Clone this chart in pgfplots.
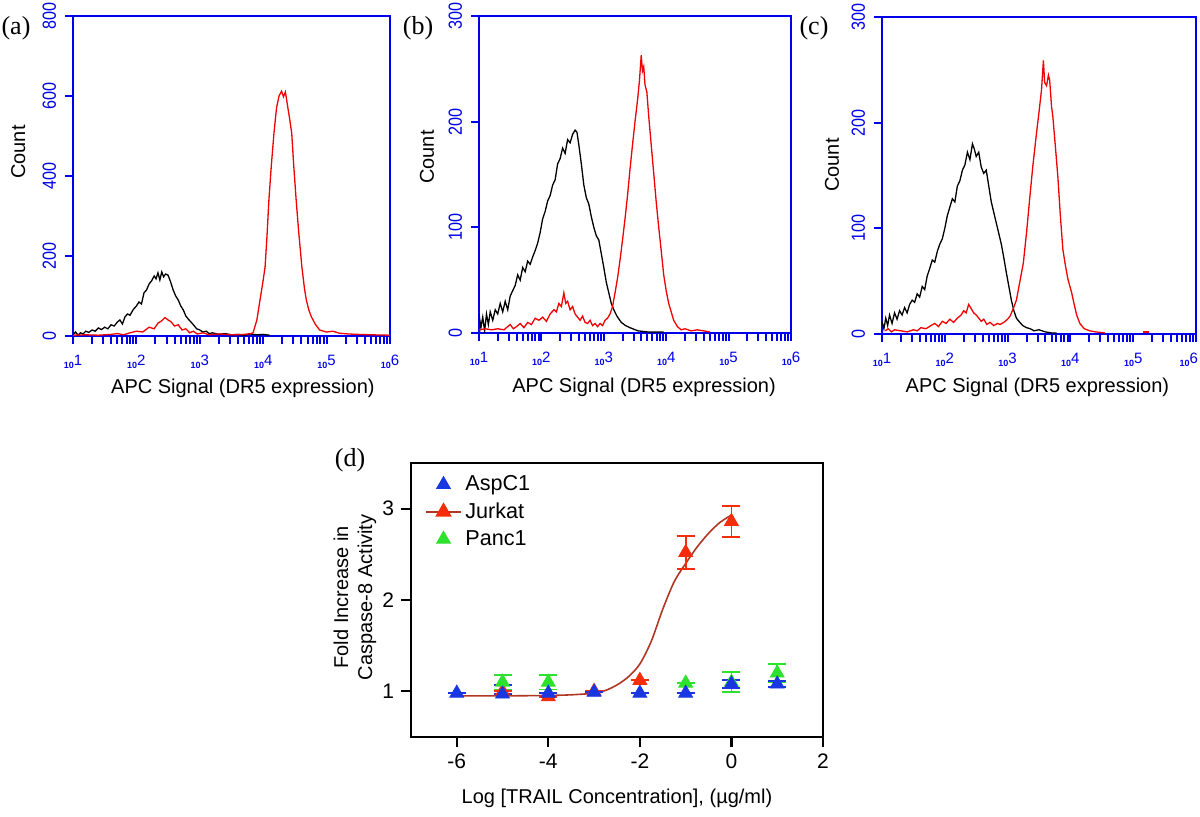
\documentclass[border=0pt]{standalone}
\usepackage{graphicx}
\usepackage{pgfplots}
\pgfplotsset{compat=1.18}
\usepackage{fontspec}
\setmainfont{Liberation Sans}
\newfontfamily\serifpanel{Liberation Serif}
\definecolor{axblue}{RGB}{0,0,235}
\definecolor{histred}{RGB}{240,0,0}
\definecolor{aspblue}{RGB}{25,55,225}
\definecolor{jurred}{RGB}{245,45,10}
\definecolor{pancgreen}{RGB}{45,225,45}
\definecolor{fitred}{RGB}{175,55,35}
\newcommand\dec[1]{{\fontsize{4.5}{5}\selectfont\bfseries 10}\raisebox{1.6pt}{\fontsize{7.5}{8}\selectfont #1}}
\pgfplotsset{
 histo/.style={
  scale only axis, xmin=1, xmax=6, ymin=0,
  axis line style={axblue, line width=0.8pt},
  tick style={axblue, line width=1pt},
  tick align=outside, xtick pos=bottom, ytick pos=left,
  major tick length=0pt, minor tick length=4pt,
  xtick={1,2,3,4,5,6},
  xticklabels={\dec{1},\dec{2},\dec{3},\dec{4},\dec{5},\dec{6}},
  minor xtick={1,1.301,1.477,1.602,1.699,1.778,1.845,1.903,1.954,
   2,2.301,2.477,2.602,2.699,2.778,2.845,2.903,2.954,
   3,3.301,3.477,3.602,3.699,3.778,3.845,3.903,3.954,
   4,4.301,4.477,4.602,4.699,4.778,4.845,4.903,4.954,
   5,5.301,5.477,5.602,5.699,5.778,5.845,5.903,5.954,6},
  xticklabel style={text=axblue},
  xticklabel shift=6pt, yticklabel shift=5pt,
  /pgf/number format/assume math mode=true,
  yticklabel={\scalebox{0.85}[1]{\pgfmathprintnumber{\tick}}},
  yticklabel style={rotate=90, anchor=south, text=axblue, font=\fontsize{9.5}{10}\selectfont},
  label style={font=\fontsize{10.8}{12}\selectfont},
  ylabel={Count},
  xlabel={APC Signal (DR5 expression)},
 },
 blk/.style={black, line width=0.65pt},
 rd/.style={histred, line width=0.65pt},
}
\begin{document}
\begin{tikzpicture}
\path[use as bounding box] (0,0) rectangle (600pt,408pt);
% ---------------- (a)
\begin{axis}[histo, at={(36.5pt,400pt)}, anchor=north west, width=158.5pt, height=160pt,
  ymax=800, ytick={0,200,400,600,800}, minor ytick={0,200,400,600,800},
  every axis y label/.style={at={(axis description cs:-0.173,0.575)}, rotate=90, anchor=center},
  every axis x label/.style={at={(axis description cs:0.536,-0.1625)}, anchor=center}]
\addplot[blk] coordinates {
(1.00,3)(1.04,10)(1.08,2)(1.12,8)(1.16,5)(1.20,12)(1.25,9)(1.30,15)(1.35,12)(1.40,20)
(1.45,16)(1.50,22)(1.55,18)(1.60,28)(1.65,25)(1.70,35)(1.74,40)(1.78,30)(1.82,48)(1.86,55)
(1.90,52)(1.95,66)(2.00,75)(2.04,85)(2.08,80)(2.12,108)(2.16,115)(2.20,130)(2.24,138)(2.28,150)
(2.31,143)(2.34,158)(2.37,140)(2.40,160)(2.43,148)(2.46,155)(2.50,152)(2.54,135)(2.58,115)(2.62,100)
(2.66,90)(2.70,75)(2.74,65)(2.78,50)(2.82,42)(2.86,35)(2.90,28)(2.95,18)(3.00,15)(3.05,10)
(3.10,12)(3.15,6)(3.20,8)(3.30,4)(3.40,6)(3.50,3)(3.60,4)(3.70,2)(3.80,5)(3.90,3)(4.00,4)(4.10,2)};
\addplot[rd] coordinates {
(1.00,2)(1.20,3)(1.40,2)(1.60,4)(1.70,6)(1.80,3)(1.90,8)(2.00,12)(2.10,10)(2.20,22)
(2.28,18)(2.34,32)(2.40,38)(2.45,46)(2.50,40)(2.55,35)(2.60,25)(2.66,28)(2.72,15)(2.78,18)
(2.84,8)(2.90,12)(2.96,5)(3.05,8)(3.15,3)(3.30,5)(3.50,3)(3.70,4)(3.80,6)(3.84,8)
(3.90,40)(3.95,90)(4.00,140)(4.03,173)(4.06,250)(4.09,340)(4.13,430)(4.17,507)(4.21,570)(4.25,600)
(4.29,612)(4.32,598)(4.35,610)(4.38,580)(4.42,540)(4.45,507)(4.48,430)(4.52,340)(4.56,260)(4.61,173)
(4.65,120)(4.68,90)(4.72,65)(4.76,48)(4.82,30)(4.89,15)(5.00,10)(5.10,12)(5.20,7)(5.35,5)
(5.50,4)(5.70,3)(6.00,2)};
\end{axis}
% ---------------- (b)
\begin{axis}[histo, at={(239.5pt,400pt)}, anchor=north west, width=156pt, height=158.5pt,
  ymax=300, ytick={0,100,200,300}, minor ytick={0,100,200,300},
  every axis y label/.style={at={(axis description cs:-0.167,0.555)}, rotate=90, anchor=center},
  every axis x label/.style={at={(axis description cs:0.529,-0.170)}, anchor=center}]
\addplot[blk] coordinates {
(1.00,18)(1.03,5)(1.06,15)(1.09,2)(1.12,18)(1.15,8)(1.18,20)(1.22,12)(1.26,22)(1.30,18)
(1.34,28)(1.38,20)(1.42,30)(1.46,22)(1.50,35)(1.54,40)(1.58,45)(1.62,55)(1.66,50)(1.70,62)
(1.74,58)(1.78,68)(1.82,65)(1.86,72)(1.90,78)(1.94,85)(1.98,95)(2.02,108)(2.06,115)(2.10,125)
(2.14,130)(2.18,140)(2.22,145)(2.26,160)(2.30,165)(2.34,175)(2.38,170)(2.42,183)(2.46,180)(2.50,188)
(2.54,192)(2.57,190)(2.60,178)(2.64,160)(2.68,140)(2.72,128)(2.76,122)(2.80,110)(2.84,100)(2.88,92)
(2.92,88)(2.96,75)(3.00,62)(3.04,48)(3.08,38)(3.12,28)(3.16,22)(3.21,16)(3.28,10)(3.35,7)
(3.42,5)(3.55,2)(3.70,1)(3.96,1)};
\addplot[rd] coordinates {
(1.00,3)(1.10,4)(1.20,3)(1.30,4)(1.40,3)(1.50,8)(1.55,4)(1.60,6)(1.66,9)(1.72,5)
(1.78,10)(1.84,8)(1.90,14)(1.96,12)(2.02,15)(2.08,11)(2.14,18)(2.20,22)(2.24,20)(2.28,28)
(2.32,25)(2.36,38)(2.39,28)(2.42,30)(2.46,22)(2.50,25)(2.54,18)(2.58,15)(2.62,12)(2.66,16)
(2.70,10)(2.74,9)(2.78,12)(2.82,7)(2.86,9)(2.90,6)(2.94,9)(2.98,7)(3.02,12)(3.06,14)
(3.10,18)(3.14,25)(3.18,38)(3.22,52)(3.26,69)(3.30,88)(3.34,108)(3.38,130)(3.42,155)(3.46,178)
(3.50,200)(3.54,220)(3.57,238)(3.60,263)(3.62,248)(3.64,252)(3.66,235)(3.69,228)(3.72,205)(3.76,178)
(3.80,151)(3.84,124)(3.88,100)(3.92,78)(3.96,55)(4.00,40)(4.04,28)(4.08,20)(4.12,12)(4.18,6)
(4.24,3)(4.30,4)(4.40,2)(4.50,3)(4.60,2)(4.70,1)};
\end{axis}
% ---------------- (c)
\begin{axis}[histo, at={(441pt,399.5pt)}, anchor=north west, width=157pt, height=158.5pt,
  ymax=300, ytick={0,100,200,300}, minor ytick={0,100,200,300},
  xticklabels={\dec{1},\dec{2},\dec{3},\dec{4},\dec{5},\makebox[0pt][r]{\dec{6}\hspace{-1pt}}},
  every axis y label/.style={at={(axis description cs:-0.159,0.533)}, rotate=90, anchor=center},
  every axis x label/.style={at={(axis description cs:0.495,-0.167)}, anchor=center}]
\addplot[blk] coordinates {
(1.00,12)(1.03,5)(1.06,15)(1.09,8)(1.12,18)(1.16,10)(1.20,20)(1.24,14)(1.28,22)(1.32,18)
(1.36,25)(1.40,20)(1.44,28)(1.48,32)(1.52,30)(1.56,38)(1.60,35)(1.64,45)(1.68,42)(1.72,55)
(1.76,62)(1.80,70)(1.84,68)(1.88,78)(1.92,85)(1.96,90)(2.00,100)(2.04,112)(2.08,120)(2.12,128)
(2.16,125)(2.20,140)(2.24,145)(2.28,155)(2.32,160)(2.36,172)(2.40,165)(2.44,180)(2.47,175)(2.50,168)
(2.54,172)(2.58,158)(2.62,152)(2.66,155)(2.70,140)(2.74,125)(2.78,115)(2.82,105)(2.86,95)(2.90,85)
(2.94,72)(2.98,58)(3.02,45)(3.06,32)(3.10,22)(3.14,15)(3.18,12)(3.24,8)(3.30,6)(3.36,5)
(3.42,3)(3.50,4)(3.60,2)(3.70,1)(3.78,1)};
\addplot[rd] coordinates {
(1.05,3)(1.10,5)(1.15,2)(1.20,4)(1.30,3)(1.40,2)(1.50,4)(1.56,3)(1.62,6)(1.70,5)
(1.78,8)(1.84,10)(1.90,7)(1.96,12)(2.02,10)(2.08,14)(2.14,11)(2.20,15)(2.26,18)(2.30,22)
(2.34,20)(2.38,28)(2.42,24)(2.46,20)(2.50,18)(2.54,15)(2.58,12)(2.62,14)(2.67,9)(2.72,11)
(2.78,8)(2.84,10)(2.88,9)(2.94,11)(3.00,14)(3.04,17)(3.09,24)(3.14,32)(3.19,48)(3.25,67)
(3.30,95)(3.35,127)(3.40,158)(3.46,190)(3.50,210)(3.54,231)(3.57,259)(3.59,238)(3.62,235)(3.65,245)
(3.67,240)(3.70,215)(3.72,206)(3.76,178)(3.80,149)(3.84,112)(3.88,80)(3.92,65)(3.96,52)(4.02,39)
(4.06,28)(4.10,18)(4.15,10)(4.22,5)(4.31,3)(4.40,2)(4.55,1)};
\addplot[rd] coordinates {(5.15,2)(5.25,2)};
\end{axis}
% ---------------- (d)
\begin{axis}[scale only axis, at={(205.5pt,176.5pt)}, anchor=north west, width=206pt, height=137pt,
  xmin=-7, xmax=2, ymin=0.5, ymax=3.5,
  xtick={-6,-4,-2,0,2}, xticklabels={-6,-4,-2,0,2},
  ytick={1,2,3}, yticklabels={1,2,3},
  axis line style={line width=1.2pt},
  tick style={black, line width=1.1pt}, tick align=outside,
  xtick pos=bottom, ytick pos=left, major tick length=5pt,
  ticklabel style={font=\fontsize{10.5}{12}\selectfont},
  label style={font=\fontsize{11}{13}\selectfont},
  xlabel={Log [TRAIL Concentration], (µg/ml)},
  ylabel={Fold Increase in\\Caspase-8 Activity},
  every axis y label/.style={at={(axis description cs:-0.136,0.51)}, rotate=90, anchor=center, align=center},
  every axis x label/.style={at={(axis description cs:0.5,-0.223)}, anchor=center},
  legend style={at={(axis description cs:0.02,0.985)}, anchor=north west, draw=none, fill=none,
    font=\fontsize{10.8}{12}\selectfont, row sep=0.5pt},
  legend cell align=left,
  clip=false]
\addlegendimage{only marks, mark=triangle*, mark size=4pt, draw=aspblue, fill=aspblue}
\addlegendentry{AspC1}
\addlegendimage{fitred, line width=0.8pt, mark=triangle*, mark size=4pt, mark options={draw=jurred, fill=jurred}}
\addlegendentry{Jurkat}
\addlegendimage{only marks, mark=triangle*, mark size=4pt, draw=pancgreen, fill=pancgreen}
\addlegendentry{Panc1}
% fitted curve
\addplot[fitred, line width=0.8pt, smooth, forget plot] coordinates {
(-6,0.95)(-5,0.95)(-4,0.955)(-3.5,0.962)(-3,0.98)(-2.75,1.01)(-2.5,1.07)(-2.25,1.16)
(-2,1.30)(-1.75,1.55)(-1.5,1.90)(-1.25,2.20)(-1,2.40)(-0.75,2.58)(-0.5,2.73)(-0.25,2.85)(0,2.93)};
% Jurkat
\addplot[only marks, mark=triangle*, mark size=4pt, draw=jurred, fill=jurred, forget plot,
  error bars/.cd, y dir=both, y explicit,
  error bar style={jurred, line width=0.9pt},
  error mark options={rotate=90, mark size=4.5pt, jurred, line width=0.9pt}]
 coordinates {(-5,1.0) +- (0,0) (-4,0.94) +- (0,0) (-3,1.0) +- (0,0) (-2,1.12) +- (0,0)
  (-1,2.52) +- (0,0.18) (0,2.86) +- (0,0.17)};
% Panc1
\addplot[only marks, mark=triangle*, mark size=4pt, draw=pancgreen, fill=pancgreen, forget plot,
  error bars/.cd, y dir=both, y explicit,
  error bar style={pancgreen, line width=0.9pt},
  error mark options={rotate=90, mark size=4.5pt, pancgreen, line width=0.9pt}]
 coordinates {(-5,1.10) +- (0,0.08) (-4,1.10) +- (0,0.08) (-1,1.09) +- (0,0) (0,1.10) +- (0,0.11) (1,1.20) +- (0,0.10)};
% AspC1
\addplot[only marks, mark=triangle*, mark size=4pt, draw=aspblue, fill=aspblue, forget plot,
  error bars/.cd, y dir=both, y explicit,
  error bar style={aspblue, line width=0.9pt},
  error mark options={rotate=90, mark size=4.5pt, aspblue, line width=0.9pt}]
 coordinates {(-6,0.98) +- (0,0) (-5,0.97) += (0,0.1) -= (0,0) (-4,0.98) +- (0,0) (-3,0.99) +- (0,0)
  (-2,0.98) +- (0,0) (-1,0.98) +- (0,0) (0,1.08) +- (0,0.04) (1,1.08) +- (0,0.03)};
\end{axis}
% panel letters
\node[font=\serifpanel\fontsize{13}{14}\selectfont] at (8pt,394pt) {(a)};
\node[font=\serifpanel\fontsize{13}{14}\selectfont] at (209pt,394pt) {(b)};
\node[font=\serifpanel\fontsize{13}{14}\selectfont] at (407pt,394pt) {(c)};
\node[font=\serifpanel\fontsize{13}{14}\selectfont] at (175pt,178pt) {(d)};
\end{tikzpicture}
\end{document}
